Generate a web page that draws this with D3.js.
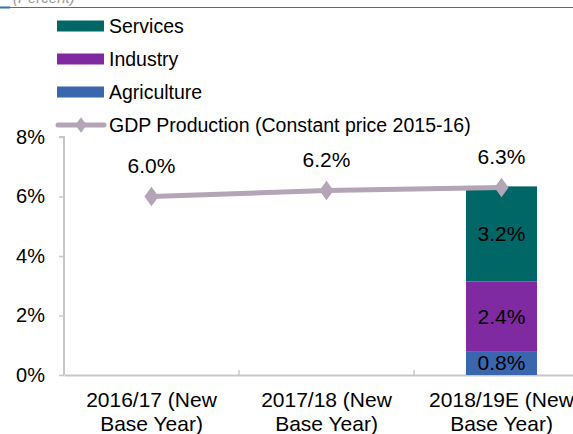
<!DOCTYPE html>
<html>
<head>
<meta charset="utf-8">
<script src="https://cdn.jsdelivr.net/npm/d3@7"></script>
<style>
  body { margin: 0; background: #fff; }
  text { font-family: "Liberation Sans", Arial, sans-serif; fill: #000; }
</style>
</head>
<body>
<div class="canvas"></div>
<script>
// data
const categories = ["2016/17 (New|Base Year)", "2017/18 (New|Base Year)", "2018/19E (New|Base Year)"];
const gdp = [6.0, 6.2, 6.3];
const agriculture = [null, null, 0.78];
const industry = [null, null, 2.36];
const services = [null, null, 3.2];
const yTicks = [0, 2, 4, 6, 8];

const seriesNames = ["Services", "Industry", "Agriculture"];
const colors = { Services: "#006666", Industry: "#7f2aa0", Agriculture: "#3a66b0" };
const lineColor = "#b3a5b6";

const W = 573, H = 434;
const margin = { top: 137, left: 64 };
const plotW = 525, plotH = 238;

const svg = d3.select(".canvas").append("svg")
    .attr("width", W).attr("height", H);

// top rule + cut off unit text
svg.append("line").attr("x1", 0).attr("x2", W).attr("y1", 7.5).attr("y2", 7.5)
    .attr("stroke", "#2e75b6").attr("stroke-width", 1);
svg.append("line").attr("x1", 0).attr("x2", 10).attr("y1", 7.5).attr("y2", 7.5)
    .attr("stroke", "#2e75b6").attr("stroke-width", 2);
svg.append("text").attr("x", 13).attr("y", 3).attr("font-size", 15)
    .attr("font-style", "italic").style("fill", "#999").text("(Percent)");

const g = svg.append("g").attr("transform", `translate(${margin.left},${margin.top})`);

const x = d3.scaleBand().domain(categories).range([0, plotW]);
const y = d3.scaleLinear().domain([0, 8]).range([plotH, 0]);

// y axis
const yAxis = g.append("g").call(d3.axisLeft(y).tickValues(yTicks)
    .tickFormat(d => d + "%").tickSize(5).tickPadding(14));
yAxis.select(".domain").attr("stroke", "#c8c8c8").attr("stroke-width", 2)
    .attr("d", `M-5,0H0V${plotH}`);
yAxis.selectAll(".tick line").attr("stroke", "#c8c8c8").attr("stroke-width", 1.5);
yAxis.selectAll(".tick text").attr("font-size", 20).style("fill", "#000")
    .attr("font-family", "Liberation Sans, Arial, sans-serif");

// x axis
const xAxis = g.append("g").attr("transform", `translate(0,${plotH})`)
    .call(d3.axisBottom(x).tickSize(0).tickFormat(""));
xAxis.select(".domain").attr("stroke", "#c8c8c8").attr("stroke-width", 2);
g.append("g").selectAll("line").data(categories.slice(1)).join("line")
    .attr("x1", d => x(d)).attr("x2", d => x(d))
    .attr("y1", plotH).attr("y2", plotH - 5)
    .attr("stroke", "#c8c8c8").attr("stroke-width", 1.5);

g.append("g").selectAll("text").data(categories).join("text")
    .attr("x", d => x(d) + x.bandwidth() / 2)
    .attr("y", plotH + 32)
    .attr("text-anchor", "middle").attr("font-size", 21)
    .each(function(d) {
      const parts = d.split("|");
      d3.select(this).selectAll("tspan").data(parts).join("tspan")
        .attr("x", x(d) + x.bandwidth() / 2)
        .attr("dy", (p, i) => i ? 24 : 0)
        .text(p => p);
    });

// stacked bars
const rows = categories.map((c, i) => ({
  cat: c, Agriculture: agriculture[i], Industry: industry[i], Services: services[i]
}));
const stack = d3.stack().keys(["Agriculture", "Industry", "Services"])
    .value((d, k) => d[k] || 0);
const layers = stack(rows);
const barW = 71;

layers.forEach(layer => {
  const lg = g.append("g");
  const segs = layer.filter(s => s.data[layer.key] != null);
  lg.selectAll("rect").data(segs).join("rect")
    .attr("x", d => x(d.data.cat) + x.bandwidth() / 2 - barW / 2)
    .attr("width", barW)
    .attr("y", d => y(d[1]))
    .attr("height", d => y(d[0]) - y(d[1]))
    .attr("fill", colors[layer.key]);
  lg.selectAll("text").data(segs).join("text")
    .attr("x", d => x(d.data.cat) + x.bandwidth() / 2)
    .attr("y", d => (y(d[0]) + y(d[1])) / 2 + 7)
    .attr("text-anchor", "middle").attr("font-size", 21)
    .text(d => d3.format(".1f")(d.data[layer.key]) + "%");
});

// GDP line
const line = d3.line()
    .x((d, i) => x(categories[i]) + x.bandwidth() / 2)
    .y(d => y(d));
g.append("path").datum(gdp)
    .attr("fill", "none").attr("stroke", lineColor).attr("stroke-width", 5)
    .attr("d", line);
g.append("g").selectAll("path").data(gdp).join("path")
    .attr("d", d3.symbol(d3.symbolDiamond, 110))
    .attr("transform", (d, i) => `translate(${x(categories[i]) + x.bandwidth() / 2},${y(d)}) scale(1.25,1)`)
    .attr("fill", lineColor);
g.append("g").selectAll("text").data(gdp).join("text")
    .attr("x", (d, i) => x(categories[i]) + x.bandwidth() / 2)
    .attr("y", d => y(d) - 24)
    .attr("text-anchor", "middle").attr("font-size", 21)
    .text(d => d3.format(".1f")(d) + "%");

// legend
const legend = svg.append("g").attr("transform", "translate(57,26)");
seriesNames.forEach((name, i) => {
  const row = legend.append("g").attr("transform", `translate(0,${i * 33})`);
  row.append("rect").attr("x", 0).attr("y", -5.5).attr("width", 47).attr("height", 11)
    .attr("fill", colors[name]);
  row.append("text").attr("x", 52).attr("y", 7).attr("font-size", 19.5).text(name);
});
const lrow = legend.append("g").attr("transform", `translate(0,${3 * 33})`);
lrow.append("line").attr("x1", 1).attr("x2", 47).attr("y1", 0).attr("y2", 0)
    .attr("stroke", lineColor).attr("stroke-width", 5).attr("stroke-linecap", "round");
lrow.append("path").attr("d", d3.symbol(d3.symbolDiamond, 70))
    .attr("transform", "translate(24,0) scale(1.25,1)").attr("fill", lineColor);
lrow.append("text").attr("x", 52).attr("y", 7).attr("font-size", 19.5)
    .text("GDP Production (Constant price 2015-16)");
</script>
</body>
</html>
